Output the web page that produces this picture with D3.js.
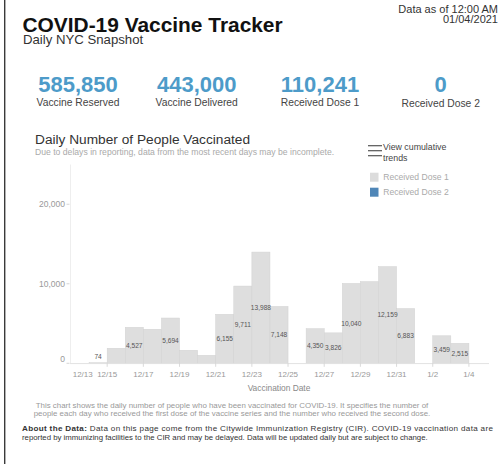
<!DOCTYPE html>
<html>
<head>
<meta charset="utf-8">
<script src="https://cdn.jsdelivr.net/npm/d3@7"></script>
<style>
  html, body { margin: 0; padding: 0; background: #fff; }
  svg { display: block; font-family: "Liberation Sans", Arial, Helvetica, sans-serif; }
</style>
</head>
<body>
<svg id="chart" width="504" height="464"></svg>
<script>
// ---------- data ----------
const dates = ["2020-12-13","2020-12-14","2020-12-15","2020-12-16","2020-12-17","2020-12-18","2020-12-19","2020-12-20","2020-12-21","2020-12-22","2020-12-23","2020-12-24","2020-12-25","2020-12-26","2020-12-27","2020-12-28","2020-12-29","2020-12-30","2020-12-31","2021-01-01","2021-01-02","2021-01-03","2021-01-04"];
const dose1 = [0, 74, 1890, 4527, 4280, 5694, 1635, 1006, 6155, 9711, 13988, 7148, 0, 4350, 3826, 10040, 10270, 12159, 6883, 0, 3459, 2515, 0];
const dose2 = [0, 0, 0, 0, 0, 0, 0, 0, 0, 0, 0, 0, 0, 0, 0, 0, 0, 0, 0, 0, 0, 0, 0];
const labelShown = [false, true, false, true, false, true, false, false, true, true, true, true, false, true, true, true, false, true, true, false, true, true, false];
const tickDates = ["2020-12-13","2020-12-15","2020-12-17","2020-12-19","2020-12-21","2020-12-23","2020-12-25","2020-12-27","2020-12-29","2020-12-31","2021-01-02","2021-01-04"];
const tickLabels = ["12/13","12/15","12/17","12/19","12/21","12/23","12/25","12/27","12/29","12/31","1/2","1/4"];
const yTicks = [0, 10000, 20000];
const statValues = ["585,850", "443,000", "110,241", "0"];
const statLabels = ["Vaccine Reserved", "Vaccine Delivered", "Received Dose 1", "Received Dose 2"];
const legendLabels = ["Received Dose 1", "Received Dose 2"];

const parse = d3.timeParse("%Y-%m-%d");
const svg = d3.select("#chart");

// left frame line
svg.append("line").attr("x1", 4.7).attr("x2", 4.7).attr("y1", 0).attr("y2", 464)
  .attr("stroke", "#3a3a3a").attr("stroke-width", 1.4);

// ---------- header ----------
svg.append("text").attr("x", 22.5).attr("y", 31.5).attr("font-size", 20.9).attr("font-weight", "bold")
  .attr("fill", "#111").text("COVID-19 Vaccine Tracker");
svg.append("text").attr("x", 23).attr("y", 44.2).attr("font-size", 13.2).attr("fill", "#333")
  .text("Daily NYC Snapshot");
svg.append("text").attr("x", 498).attr("y", 12.7).attr("font-size", 11).attr("text-anchor", "end")
  .attr("fill", "#333").text("Data as of 12:00 AM");
svg.append("text").attr("x", 498).attr("y", 23.3).attr("font-size", 11).attr("text-anchor", "end")
  .attr("fill", "#333").text("01/04/2021");

// ---------- stat cards ----------
const statCenters = [78, 196.7, 320, 440.7];
statLabels.forEach((lab, i) => {
  const cx = statCenters[i];
  svg.append("text").attr("x", cx).attr("y", 92.3).attr("font-size", 22).attr("font-weight", "bold")
    .attr("text-anchor", "middle").attr("fill", "#4d9bc9").text(statValues[i]);
  svg.append("text").attr("x", cx).attr("y", i === 3 ? 107 : 105.6).attr("font-size", 10.3)
    .attr("text-anchor", "middle").attr("fill", "#444").text(lab);
});

// ---------- chart title ----------
svg.append("text").attr("x", 35).attr("y", 143.5).attr("font-size", 13.7).attr("fill", "#333")
  .text("Daily Number of People Vaccinated");
svg.append("text").attr("x", 35).attr("y", 154.5).attr("font-size", 8.65).attr("fill", "#aaa")
  .text("Due to delays in reporting, data from the most recent days may be incomplete.");

// cumulative trends toggle
[145.7, 150.7, 155.7].forEach(yy => {
  svg.append("line").attr("x1", 368).attr("x2", 382).attr("y1", yy).attr("y2", yy)
    .attr("stroke", "#555").attr("stroke-width", 1.2);
});
svg.append("text").attr("x", 383).attr("y", 150.3).attr("font-size", 8.8).attr("fill", "#444").text("View cumulative");
svg.append("text").attr("x", 383).attr("y", 161).attr("font-size", 8.8).attr("fill", "#444").text("trends");

// legend
const legendColors = ["#dcdcdc", "#4f86b7"];
legendLabels.forEach((lab, i) => {
  const ly = 172.7 + i * 15;
  svg.append("rect").attr("x", 370).attr("y", ly).attr("width", 8.5).attr("height", 9).attr("fill", legendColors[i]);
  svg.append("text").attr("x", 383.3).attr("y", ly + 7.5).attr("font-size", 8.6).attr("fill", "#aaa").text(lab);
});

// ---------- scales ----------
const x = d3.scaleTime().domain([parse("2020-12-13"), parse("2021-01-05")]).range([71, 487]);
const y = d3.scaleLinear().domain([0, 25000]).range([363.3, 164.5]);

// y axis line
svg.append("line").attr("x1", 70.5).attr("x2", 70.5).attr("y1", y(25000)).attr("y2", y(0))
  .attr("stroke", "#eeeeee").attr("stroke-width", 1);

// bars
const g = svg.append("g");
dates.forEach((ds, i) => {
  const d0 = parse(ds);
  const d1 = d3.timeDay.offset(d0, 1);
  if (dose1[i] > 0) {
    g.append("rect").attr("x", x(d0)).attr("width", x(d1) - x(d0))
      .attr("y", y(dose1[i])).attr("height", y(0) - y(dose1[i]))
      .attr("fill", "#dedede").attr("stroke", "#d2d2d2").attr("stroke-width", 0.5);
  }
  if (dose2[i] > 0) {
    g.append("rect").attr("x", x(d0)).attr("width", x(d1) - x(d0))
      .attr("y", y(dose2[i])).attr("height", y(0) - y(dose2[i]))
      .attr("fill", "#4f86b7");
  }
});
// bar labels
const fmt = d3.format(",");
dates.forEach((ds, i) => {
  if (!labelShown[i]) return;
  const d0 = parse(ds);
  const d1 = d3.timeDay.offset(d0, 1);
  const cx = (x(d0) + x(d1)) / 2;
  const cy = Math.min((y(dose1[i]) + y(0)) / 2, y(0) - 6.3);
  svg.append("text").attr("x", cx).attr("y", cy).attr("dy", "0.35em").attr("font-size", 6.6)
    .attr("text-anchor", "middle").attr("fill", "#555").text(fmt(dose1[i]));
});

// x axis
svg.append("line").attr("x1", 70).attr("x2", 489).attr("y1", y(0) + 0.3).attr("y2", y(0) + 0.3)
  .attr("stroke", "#e2e2e2").attr("stroke-width", 1);
tickDates.forEach((ds, i) => {
  const tx = x(parse(ds));
  if (i > 0) {
    svg.append("line").attr("x1", tx).attr("x2", tx).attr("y1", y(0)).attr("y2", y(0) + 3.5)
      .attr("stroke", "#d0d0d0").attr("stroke-width", 0.8);
  }
  svg.append("text").attr("x", i === 0 ? tx + 1.7 : tx).attr("y", 377)
    .attr("font-size", 8).attr("text-anchor", i === 0 ? "start" : "middle")
    .attr("fill", "#999").text(tickLabels[i]);
});
svg.append("text").attr("x", 279).attr("y", 391).attr("font-size", 8.4).attr("text-anchor", "middle")
  .attr("fill", "#888").text("Vaccination Date");

// y axis ticks
yTicks.forEach(v => {
  const ty = y(v);
  svg.append("line").attr("x1", 66.5).attr("x2", 69.5).attr("y1", ty).attr("y2", ty)
    .attr("stroke", "#ccc").attr("stroke-width", 0.8);
  svg.append("text").attr("x", 65).attr("y", v === 0 ? ty - 4 : ty).attr("dy", "0.35em")
    .attr("font-size", 8.5).attr("text-anchor", "end").attr("fill", "#999").text(fmt(v));
});

// ---------- footer ----------
svg.append("text").attr("x", 232).attr("y", 407.5).attr("font-size", 7.9).attr("text-anchor", "middle")
  .attr("fill", "#999").text("This chart shows the daily number of people who have been vaccinated for COVID-19. It specifies the number of");
svg.append("text").attr("x", 232).attr("y", 416).attr("font-size", 7.9).attr("text-anchor", "middle")
  .attr("fill", "#999").text("people each day who received the first dose of the vaccine series and the number who received the second dose.");

const about1 = svg.append("text").attr("x", 22).attr("y", 430.5).attr("font-size", 8.1).attr("fill", "#333")
  .attr("textLength", 471).attr("lengthAdjust", "spacing");
about1.append("tspan").attr("font-weight", "bold").text("About the Data:");
about1.append("tspan").text(" Data on this page come from the Citywide Immunization Registry (CIR). COVID-19 vaccination data are");
svg.append("text").attr("x", 22).attr("y", 439.5).attr("font-size", 7.8).attr("fill", "#333")
  .text("reported by immunizing facilities to the CIR and may be delayed. Data will be updated daily but are subject to change.");
</script>
</body>
</html>
